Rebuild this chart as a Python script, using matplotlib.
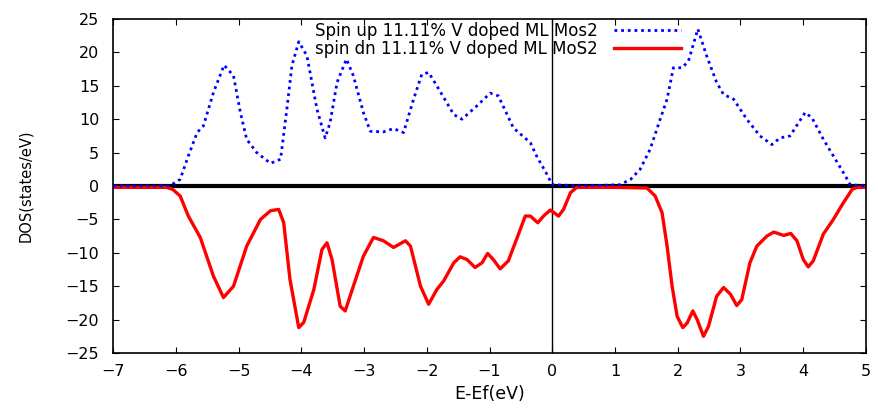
import numpy as np
import matplotlib.pyplot as plt
from matplotlib.ticker import MultipleLocator

# spin up DOS
up_e = [-7.0, -6.5, -6.1, -5.93, -5.8, -5.66, -5.56, -5.4, -5.23, -5.08, -4.97, -4.87,
        -4.71, -4.49, -4.33, -4.23, -4.15, -4.04, -3.91, -3.75, -3.62, -3.54, -3.43,
        -3.28, -3.17, -3.01, -2.90, -2.69, -2.53, -2.37, -2.21, -2.08, -1.97, -1.84,
        -1.57, -1.44, -1.20, -0.99, -0.86, -0.62, -0.35, -0.25, -0.10, 0.0, 0.5, 1.08,
        1.25, 1.40, 1.56, 1.72, 1.83, 1.93, 2.07, 2.17, 2.32, 2.46, 2.62, 2.73, 2.89,
        3.10, 3.31, 3.50, 3.63, 3.79, 4.03, 4.14, 4.32, 4.48, 4.64, 4.75, 5.0]
up_dos = [0.0, 0.0, 0.0, 1.0, 4.5, 8.0, 9.0, 14.0, 18.1, 16.5, 11.0, 7.0,
          5.0, 3.4, 4.0, 11.5, 18.0, 21.6, 19.5, 11.5, 7.2, 9.5, 15.5,
          19.0, 16.5, 11.0, 8.2, 8.1, 8.6, 8.0, 13.0, 16.7, 17.0, 15.0,
          10.7, 10.0, 12.0, 13.9, 13.5, 8.7, 6.5, 4.5, 2.0, 0.2, 0.0, 0.2,
          1.0, 2.5, 5.5, 10.0, 13.0, 17.7, 17.7, 18.7, 23.5, 19.5, 15.5, 13.7, 13.0,
          10.0, 7.5, 6.2, 7.2, 7.5, 11.0, 10.2, 7.0, 4.5, 2.0, 0.2, 0.0]

# spin down DOS
dn_e = [-7.0, -6.5, -6.15, -6.05, -5.93, -5.80, -5.61, -5.40, -5.24, -5.08, -4.87, -4.65,
        -4.49, -4.36, -4.28, -4.18, -4.04, -3.96, -3.80, -3.67, -3.59, -3.51, -3.38,
        -3.30, -3.17, -3.01, -2.85, -2.69, -2.53, -2.34, -2.26, -2.10, -1.97, -1.84,
        -1.73, -1.57, -1.47, -1.36, -1.23, -1.12, -1.03, -0.94, -0.83, -0.70, -0.57,
        -0.43, -0.35, -0.23, -0.14, -0.03, 0.10, 0.18, 0.29, 0.39, 1.0, 1.51, 1.64,
        1.75, 1.83, 1.91, 1.99, 2.08, 2.15, 2.24, 2.31, 2.41, 2.49, 2.62, 2.73, 2.84,
        2.94, 3.02, 3.15, 3.26, 3.42, 3.53, 3.69, 3.80, 3.90, 4.00, 4.08, 4.16, 4.32,
        4.48, 4.64, 4.78, 4.86, 5.0]
dn_dos = [-0.2, -0.2, -0.2, -0.5, -1.5, -4.5, -7.7, -13.5, -16.7, -15.0, -9.0, -5.0,
          -3.7, -3.5, -5.5, -14.0, -21.2, -20.4, -15.5, -9.5, -8.5, -11.0, -18.0,
          -18.7, -15.0, -10.5, -7.7, -8.2, -9.2, -8.2, -9.0, -15.0, -17.7, -15.5,
          -14.2, -11.5, -10.6, -11.0, -12.2, -11.5, -10.1, -11.0, -12.4, -11.2, -8.0,
          -4.5, -4.5, -5.5, -4.5, -3.6, -4.5, -3.5, -1.0, -0.2, -0.2, -0.3, -1.5,
          -4.0, -9.0, -15.0, -19.5, -21.2, -20.5, -18.7, -20.0, -22.5, -21.0, -16.5, -15.2, -16.2,
          -17.9, -17.0, -11.5, -9.0, -7.5, -6.9, -7.4, -7.1, -8.2, -11.0, -12.1, -11.2, -7.2,
          -5.0, -2.5, -0.5, -0.2, -0.2]

label_up = 'Spin up 11.11% V doped ML Mos2'
label_dn = 'spin dn 11.11% V doped ML MoS2'

fig = plt.figure(figsize=(8.79, 4.08), dpi=100)
ax = fig.add_axes([0.1286, 0.1348, 0.8566, 0.8186])

ax.axhline(0, color='black', lw=3, zorder=1)
ax.axvline(0, color='black', lw=1, zorder=1)
ax.plot(dn_e, dn_dos, color='red', lw=2.4, label=label_dn, zorder=2,
        solid_joinstyle='round')
ax.plot(up_e, up_dos, color='blue', lw=2, linestyle=(0, (1, 1.4)), label=label_up, zorder=3)

ax.set_xlim(-7, 5)
ax.set_ylim(-25, 25)
ax.xaxis.set_major_locator(MultipleLocator(1))
ax.yaxis.set_major_locator(MultipleLocator(5))
ax.tick_params(direction='in', top=True, right=True, length=4, labelsize=11.5)
ax.tick_params(axis='x', pad=8)
ax.tick_params(axis='y', pad=10)
for s in ax.spines.values():
    s.set_linewidth(1.2)

ax.set_xlabel('E-Ef(eV)', fontsize=12.5, labelpad=4)
ax.set_ylabel('DOS(states/eV)', fontsize=10.5, labelpad=23)

h, l = ax.get_legend_handles_labels()
ax.legend(h[::-1], l[::-1], loc='upper right', bbox_to_anchor=(0.772, 1.03),
          frameon=False, markerfirst=False, fontsize=12, handlelength=4.0,
          labelspacing=0.0, handletextpad=1.0, borderpad=0.3)

fig.savefig('out.png', dpi=100)
